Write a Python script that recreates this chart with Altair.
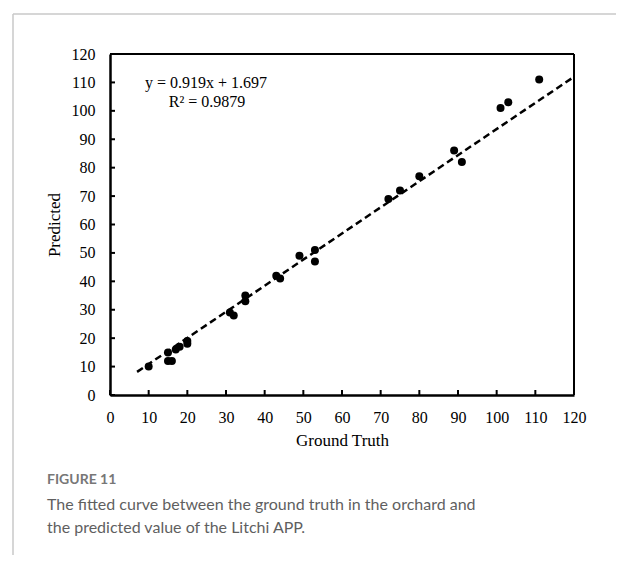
import altair as alt
import pandas as pd

ground_truth = [10, 15, 15, 16, 17, 18, 20, 20, 31, 32, 35, 35, 43, 44, 49, 53, 53, 72, 75, 80, 89, 91, 101, 103, 111]
predicted = [10, 15, 12, 12, 16, 17, 18, 19, 29, 28, 35, 33, 42, 41, 49, 51, 47, 69, 72, 77, 86, 82, 101, 103, 111]
fit_x = [7, 120]
fit_y = [8.13, 111.98]
tick_vals = [0, 10, 20, 30, 40, 50, 60, 70, 80, 90, 100, 110, 120]

W, H = 464, 341
FONT = "Liberation Serif"

pts = pd.DataFrame({"x": ground_truth, "y": predicted})
fit = pd.DataFrame({"x": fit_x, "y": fit_y})
ticks = pd.DataFrame({"v": tick_vals})

xs = alt.Scale(domain=[0, 120], nice=False, zero=False)
ys = alt.Scale(domain=[0, 120], nice=False, zero=False)

xaxis = alt.Axis(values=tick_vals, title="Ground Truth", ticks=False, grid=False,
                 labelOverlap=False, labelFlush=False,
                 labelFont=FONT, labelFontSize=16, labelColor="black", labelPadding=14,
                 titleFont=FONT, titleFontSize=17, titleFontWeight="normal", titleColor="black",
                 titlePadding=7, domainColor="black", domainWidth=2.5)
yaxis = alt.Axis(values=tick_vals, title="Predicted", ticks=False, grid=False,
                 labelOverlap=False, labelFlush=False,
                 labelFont=FONT, labelFontSize=16, labelColor="black", labelPadding=15,
                 titleFont=FONT, titleFontSize=17, titleFontWeight="normal", titleColor="black",
                 titlePadding=8, domainColor="black", domainWidth=2.5)

points = alt.Chart(pts).mark_circle(size=64, color="black", opacity=1).encode(
    x=alt.X("x:Q", scale=xs, axis=xaxis, title="Ground Truth"),
    y=alt.Y("y:Q", scale=ys, axis=yaxis, title="Predicted"),
)

line = alt.Chart(fit).mark_line(color="black", strokeWidth=2.5, strokeDash=[7, 4]).encode(
    x=alt.X("x:Q", scale=xs, axis=xaxis, title="Ground Truth"),
    y=alt.Y("y:Q", scale=ys, axis=yaxis, title="Predicted"),
)

xticks = alt.Chart(ticks).mark_rule(color="black", strokeWidth=2).encode(
    x=alt.X("v:Q", scale=xs, axis=xaxis, title="Ground Truth"), y=alt.value(H), y2=alt.value(H - 5)
)
yticks = alt.Chart(ticks).mark_rule(color="black", strokeWidth=2).encode(
    y=alt.Y("v:Q", scale=ys, axis=yaxis, title="Predicted"), x=alt.value(0), x2=alt.value(5)
)

box_top = alt.Chart(pd.DataFrame({"a": [0]})).mark_rule(color="black", strokeWidth=2).encode(
    x=alt.value(0), x2=alt.value(W), y=alt.value(0)
)
box_right = alt.Chart(pd.DataFrame({"a": [0]})).mark_rule(color="black", strokeWidth=2).encode(
    x=alt.value(W), y=alt.value(0), y2=alt.value(H)
)

eq1 = alt.Chart(pd.DataFrame({"t": ["y = 0.919x + 1.697"]})).mark_text(
    font=FONT, fontSize=16, color="black", align="center", baseline="middle"
).encode(text="t:N", x=alt.value(96), y=alt.value(29))
eq2 = alt.Chart(pd.DataFrame({"t": ["R² = 0.9879"]})).mark_text(
    font=FONT, fontSize=16, color="black", align="center", baseline="middle"
).encode(text="t:N", x=alt.value(97), y=alt.value(48))

fig_lbl = alt.Chart(pd.DataFrame({"t": ["FIGURE 11"]})).mark_text(
    font="Lato", fontSize=14, fontWeight="bold", color="#777777", align="left", baseline="middle"
).encode(text="t:N", x=alt.value(-63), y=alt.value(426))
cap1 = alt.Chart(pd.DataFrame({"t": ["The fitted curve between the ground truth in the orchard and"]})).mark_text(
    font="Lato", fontSize=16, color="#5f5f5f", align="left", baseline="middle"
).encode(text="t:N", x=alt.value(-63), y=alt.value(451))
cap2 = alt.Chart(pd.DataFrame({"t": ["the predicted value of the Litchi APP."]})).mark_text(
    font="Lato", fontSize=16, color="#5f5f5f", align="left", baseline="middle"
).encode(text="t:N", x=alt.value(-63), y=alt.value(474))

frame_top = alt.Chart(pd.DataFrame({"a": [0]})).mark_rule(color="#c8c8c8", strokeWidth=1.5).encode(
    x=alt.value(-97), x2=alt.value(520), y=alt.value(-40)
)
frame_left = alt.Chart(pd.DataFrame({"a": [0]})).mark_rule(color="#c8c8c8", strokeWidth=1.5).encode(
    x=alt.value(-97), y=alt.value(-40), y2=alt.value(520)
)

chart = alt.layer(
    points, line, xticks, yticks, frame_top, frame_left, box_top, box_right,
    eq1, eq2, fig_lbl, cap1, cap2
).properties(
    width=W, height=H,
    autosize=alt.AutoSizeParams(type="none"),
    padding={"left": 102, "top": 46, "right": 42, "bottom": 160},
).configure_view(stroke=None).configure(background="white")

chart.save("out.html", embed_options={"renderer": "svg", "actions": False})
